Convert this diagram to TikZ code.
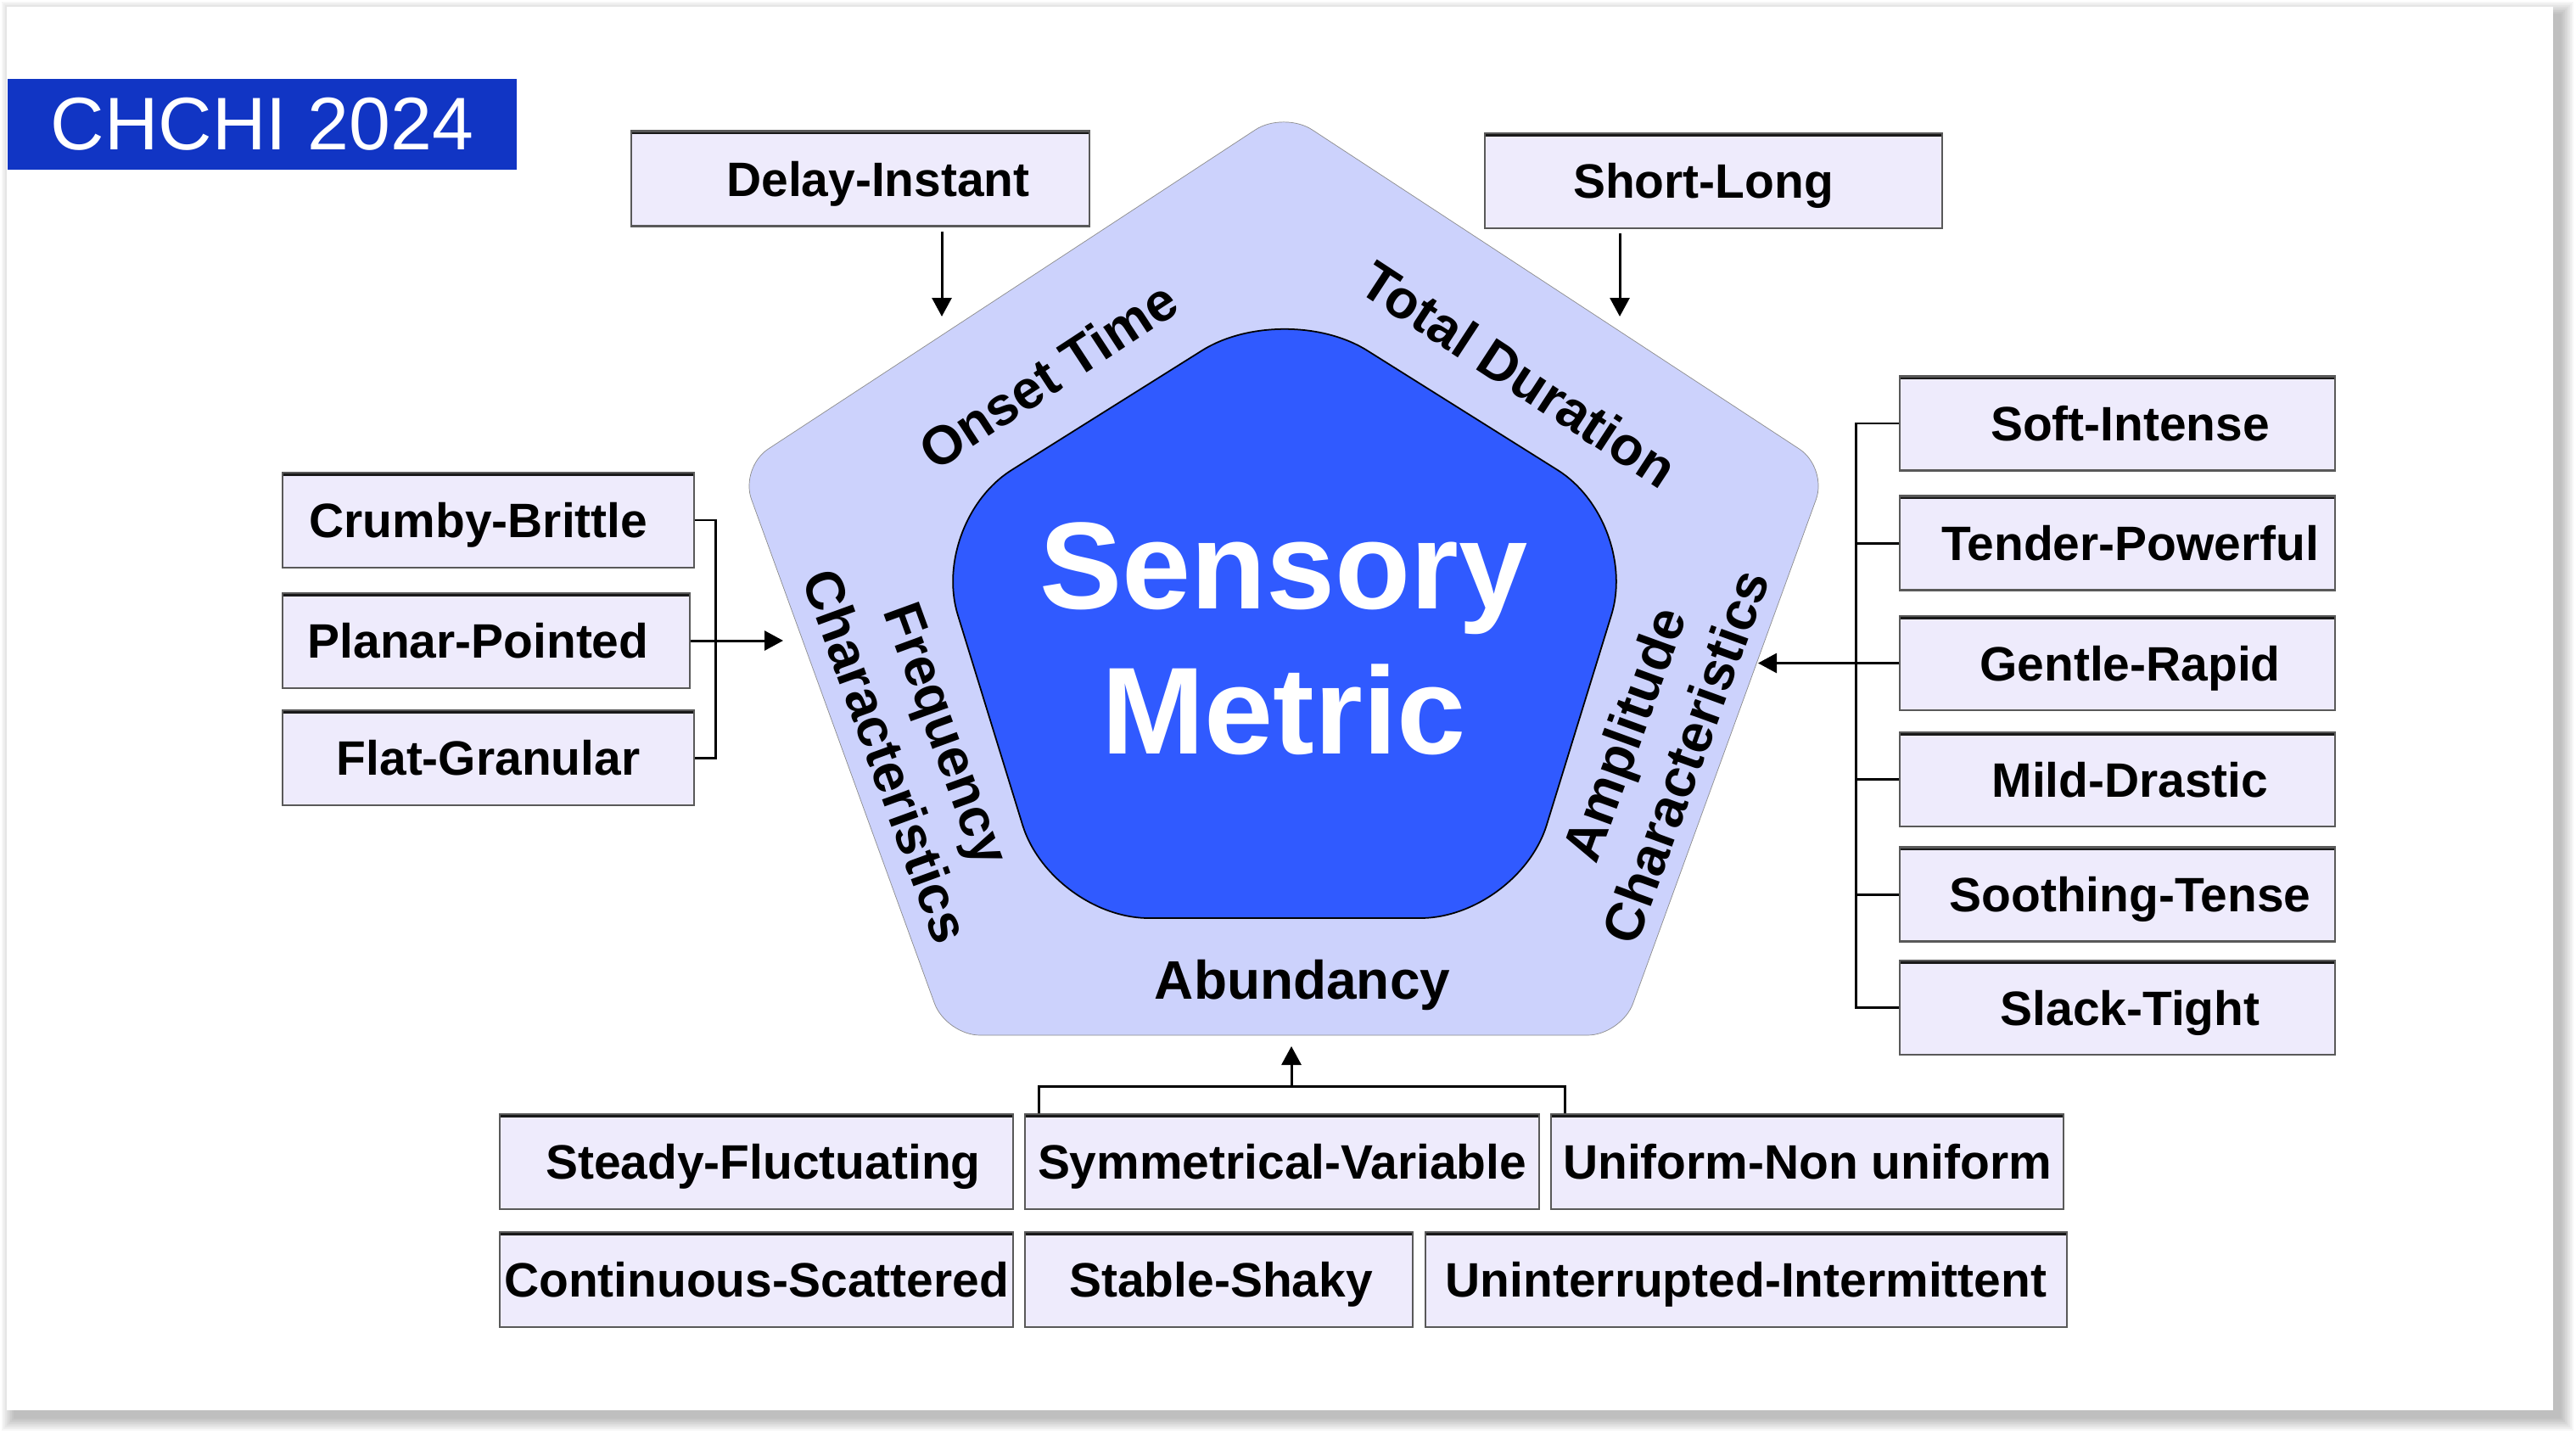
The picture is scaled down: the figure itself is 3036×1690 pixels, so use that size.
\documentclass[tikz,border=0pt]{standalone}
\usepackage{fontspec}
\setmainfont{Liberation Sans}
\usetikzlibrary{arrows.meta,positioning,calc}

\definecolor{bandfill}{HTML}{CCD2FC}
\definecolor{corefill}{HTML}{305AFF}
\definecolor{cellfill}{HTML}{EEEBFC}
\definecolor{tagfill}{HTML}{1135C4}

\begin{document}
\begin{tikzpicture}[
  x=0.1mm, y=-0.1mm,
  >={Triangle[length=2.2mm,width=2.3mm]},
  cell/.style={draw=black!65,line width=0.6pt,fill=cellfill,inner sep=0pt,
               minimum height=11.2mm,text height=4.1mm,text depth=0pt,
               font=\bfseries\fontsize{16.2}{19}\selectfont,
               path picture={\draw[line width=2.2pt,black!90]
                 (path picture bounding box.north west) -- (path picture bounding box.north east);}},
  pushr/.style={execute at begin node={\hspace*{#1}}},
  pushl/.style={execute at end node={\hspace*{#1}}},
  band/.style={font=\bfseries\fontsize{18.2}{21.9}\selectfont,align=center,inner sep=0pt},
  link/.style={line width=0.85pt},
  arr/.style={->,line width=0.85pt},
]

% Coordinates are in pixels of the 3036 x 1690 sheet, y growing downwards.
\def\rcol{2495.5}
\def\rowA{1369}  \def\rowB{1508}

% ---------------- sheet with a soft shadow ----------------
\useasboundingbox (0,0) rectangle (3036,1690);
\foreach \k in {0,...,7}
  \fill[black,opacity=0.035] (2*\k+2,2*\k+2) rectangle (3033-2*\k,1686-2*\k);
\fill[white] (8,8) rectangle (3009,1662);

\node[fill=tagfill,text=white,minimum width=60mm,minimum height=10.7mm,inner sep=0pt,
      font=\fontsize{25}{28}\selectfont] (tag) at (309,146.5) {CHCHI 2024};

% ---------------- the pentagon ----------------
\coordinate (oT)  at (1513,131);
\coordinate (oR)  at (2154,551);
\coordinate (oBR) at (1911,1220);
\coordinate (oBL) at (1115,1220);
\coordinate (oL)  at (872,551);
\fill[bandfill,draw=black!45,line width=0.2pt,rounded corners=4mm]
  (oT) -- (oR) -- (oBR) -- (oBL) -- (oL) -- cycle;

\coordinate (iT)  at (1514,352);
\coordinate (iR)  at (1933,615);
\coordinate (iBR) at (1789,1082);
\coordinate (iBL) at (1239,1082);
\coordinate (iL)  at (1095,615);
\filldraw[fill=corefill,draw=black,line width=0.5pt,rounded corners=11.5mm]
  (iT) -- (iR) -- (iBR) -- (iBL) -- (iL) -- cycle;

\node[text=white,font=\bfseries\fontsize{41.5}{48.6}\selectfont,align=center,inner sep=0pt]
  (core) at (1513,753) {Sensory\\Metric};

\node[band,rotate=33.2]  (onset) at (1235,442) {Onset Time};
\node[band,rotate=-33.2] (dur)   at (1790,441) {Total Duration};
\node[band,rotate=-70]   (freq)  at (1080,878) {Frequency\\Characteristics};
\node[band,rotate=70]    (amp)   at (1950,878) {Amplitude\\Characteristics};
\node[band,anchor=base]  (abund) at (1535,1177) {Abundancy};

% ---------------- boxes ----------------
\node[cell,pushr=4.2mm,minimum width=54mm]   (delay) at (1014,210.5) {Delay-Instant};
\node[cell,pushl=2.4mm,minimum width=53.9mm] (short) at (2019.5,213) {Short-Long};

\node[cell,pushl=2.3mm,minimum width=48.5mm] (crumby) at (575.5,613) {Crumby-Brittle};
\node[cell,pushl=1.9mm,minimum width=48mm]   (planar) at (573,755)   {Planar-Pointed};
\node[cell,minimum width=48.5mm]             (flat)   at (575.5,893) {Flat-Granular};

\foreach \n/\t/\yy in {soft/Soft-Intense/499,tender/Tender-Powerful/640,
    gentle/Gentle-Rapid/781.5,mild/Mild-Drastic/918.5,
    soothing/Soothing-Tense/1054,slack/Slack-Tight/1187.5}
  \node[cell,pushr=3mm,minimum width=51.3mm,minimum height=11.1mm] (\n) at (\rcol,\yy) {\t};

\node[cell,pushr=1.6mm,minimum width=60.5mm] (steady) at (891.5,\rowA) {Steady-Fluctuating};
\node[cell,minimum width=60.6mm] (symm)    at (1511,\rowA)  {Symmetrical-Variable};
\node[cell,minimum width=60.4mm] (uniform) at (2130,\rowA)  {Uniform-Non uniform};
\node[cell,minimum width=60.5mm] (contin)  at (891.5,\rowB) {Continuous-Scattered};
\node[cell,pushr=0.5mm,minimum width=45.7mm] (stable) at (1436.5,\rowB) {Stable-Shaky};
\node[cell,minimum width=75.6mm] (uninter) at (2058,\rowB)  {Uninterrupted-Intermittent};

% ---------------- connectors ----------------
\coordinate (onsetin) at (1110,373);
\coordinate (durin)   at (1909,373);
\coordinate (freqin)  at (923,755);
\coordinate (ampin)   at (2072,781.5);
\coordinate (abin)    at (1522,1233);
\coordinate (abjoin)  at (1522,1280);

\draw[arr,shorten <=0.5mm] (onsetin |- delay.south) -- (onsetin);
\draw[arr,shorten <=0.5mm] (durin |- short.south) -- (durin);

\draw[link] (crumby.east) -- ++(24,0) |- (flat.east);
\draw[arr] (planar.east) -- (freqin);

\draw[link] (soft.west) -- ++(-50,0) |- (slack.west);
\foreach \n in {tender,mild,soothing}{\draw[link] (\n.west) -- ++(-50,0);}
\draw[arr] (gentle.west) -- (ampin);

\draw[link] ([xshift=1.8mm]symm.north west) |- (abjoin) -| ([xshift=1.8mm]uniform.north west);
\draw[arr] (abjoin) -- (abin);

\end{tikzpicture}
\end{document}
